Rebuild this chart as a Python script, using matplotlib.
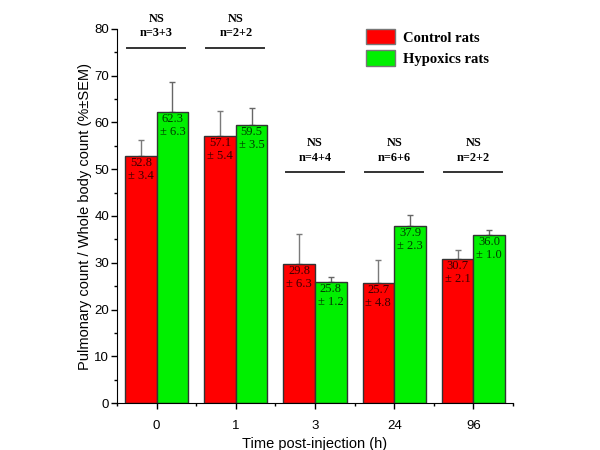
import matplotlib.pyplot as plt
import numpy as np
from matplotlib.ticker import MultipleLocator, FixedLocator

# data
times = ['0', '1', '3', '24', '96']
control = [52.8, 57.1, 29.8, 25.7, 30.7]
control_sem = [3.4, 5.4, 6.3, 4.8, 2.1]
hypoxic = [62.3, 59.5, 25.8, 37.9, 36.0]
hypoxic_sem = [6.3, 3.5, 1.2, 2.3, 1.0]
group_n = ['n=3+3', 'n=2+2', 'n=4+4', 'n=6+6', 'n=2+2']
group_sig = ['NS', 'NS', 'NS', 'NS', 'NS']
line_level = [76, 76, 49.4, 49.4, 49.4]

red = '#ff0000'
green = '#00f000'
serif = 'Liberation Serif'
plt.rcParams['font.family'] = ['Liberation Sans', 'DejaVu Sans']

fig = plt.figure(figsize=(6, 4.5), dpi=100)
ax = fig.add_axes([0.195, 0.1044, 0.66, 0.8312])

x = np.arange(len(times))
w = 0.4
zeros = np.zeros(len(times))

ax.bar(x - w/2, control, w, color=red, edgecolor='#333333', linewidth=1,
       label='Control rats', zorder=2)
ax.bar(x + w/2, hypoxic, w, color=green, edgecolor='#333333', linewidth=1,
       label='Hypoxics rats', zorder=2)
ax.errorbar(x - w/2, control, yerr=[zeros, control_sem], fmt='none',
            ecolor='#7a7a7a', elinewidth=1, capsize=2.2, capthick=1, zorder=1)
ax.errorbar(x + w/2, hypoxic, yerr=[zeros, hypoxic_sem], fmt='none',
            ecolor='#666666', elinewidth=1, capsize=2.2, capthick=1, zorder=1)

# value labels inside bars
for i in range(len(times)):
    ax.text(x[i] - w/2, control[i] - 0.2, f'{control[i]:.1f}\n\u00b1 {control_sem[i]:.1f}',
            ha='center', va='top', fontsize=9, family=serif, color='#3a0000',
            linespacing=1.1, zorder=3)
    ax.text(x[i] + w/2, hypoxic[i] - 0.2, f'{hypoxic[i]:.1f}\n\u00b1 {hypoxic_sem[i]:.1f}',
            ha='center', va='top', fontsize=9, family=serif, color='#003a00',
            linespacing=1.1, zorder=3)

# significance annotations
for i in range(len(times)):
    yl = line_level[i]
    ax.plot([x[i] - 0.37, x[i] + 0.36], [yl, yl], color='#333333', lw=1.4,
            clip_on=False)
    ax.text(x[i], yl + 3.1, group_n[i], ha='center', va='center', fontsize=8.8,
            family=serif, fontweight='bold', clip_on=False)
    ax.text(x[i], yl + 6.2, group_sig[i], ha='center', va='center', fontsize=8.8,
            family=serif, fontweight='bold', clip_on=False)

ax.set_xlim(-0.5, 4.5)
ax.set_ylim(0, 80)
ax.set_xticks(x)
ax.set_xticklabels(times)
ax.xaxis.set_minor_locator(FixedLocator(np.arange(-0.5, 5, 1)))
ax.yaxis.set_major_locator(MultipleLocator(10))
ax.yaxis.set_minor_locator(MultipleLocator(5))
ax.tick_params(axis='both', which='major', length=4.3, width=1, labelsize=9.5)
ax.tick_params(axis='x', which='major', pad=8)
ax.tick_params(axis='y', which='major', pad=1.5)
ax.tick_params(axis='both', which='minor', length=2.5, width=1)
ax.spines['top'].set_visible(False)
ax.spines['right'].set_visible(False)
ax.set_xlabel('Time post-injection (h)', fontsize=10.5, labelpad=3.5)
ax.set_ylabel('Pulmonary count / Whole body count (%\u00b1SEM)', fontsize=10.5, labelpad=1.5)

leg = fig.legend(loc='upper left', bbox_to_anchor=(0.598, 0.952), frameon=False,
                 prop={'family': serif, 'weight': 'bold', 'size': 10.5},
                 handlelength=2.0, handleheight=1.25, handletextpad=0.55,
                 labelspacing=0.4, borderpad=0)
for p in leg.get_patches():
    p.set_edgecolor('#777777')

fig.savefig('out.png', dpi=100)
